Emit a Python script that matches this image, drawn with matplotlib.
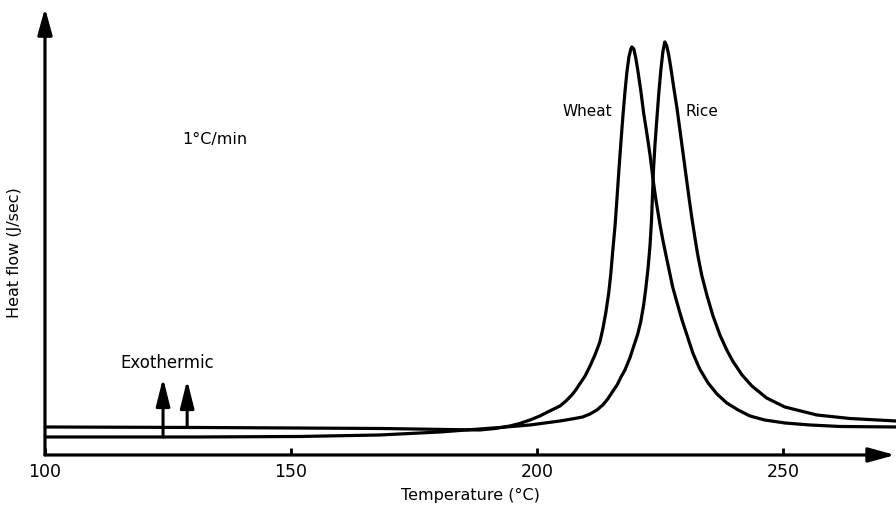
import matplotlib.pyplot as plt

# (temperature in deg C, heat flow in arbitrary units)
wheat_temp = [100.0, 131.5, 168.1, 188.4, 191.5, 194.5, 196.5, 198.6, 200.6, 202.6,
              204.7, 205.9, 207.1, 207.9, 208.7, 209.8, 210.8, 211.8, 212.8, 213.4,
              214.0, 214.6, 215.0, 215.4, 215.9, 216.3, 216.7, 217.1, 217.5, 217.9,
              218.3, 218.7, 219.1, 219.3, 219.7, 220.1, 220.5, 221.1, 221.7, 222.4,
              223.0, 223.6, 224.2, 225.0, 225.6, 226.4, 227.0, 227.6, 228.5, 229.5,
              230.5, 231.7, 233.1, 234.8, 236.6, 238.6, 240.9, 243.3, 246.3, 250.4,
              255.5, 261.6, 273.0]
wheat_flow = [28, 27.5, 26.5, 25, 26.5, 29, 31.5, 35, 39, 44,
              49, 54, 60, 65, 71, 79, 89, 100, 113, 126,
              142, 162, 180, 203, 230, 258, 287, 314, 340, 363,
              383, 398, 406, 408, 406, 397, 385, 365, 342, 320,
              300, 276, 255, 231, 215, 196, 182, 168, 152, 135,
              120, 102, 86, 72, 61, 52, 45, 39, 35, 32,
              30, 28.5, 28]

rice_temp = [100.0, 131.5, 151.8, 168.1, 180.3, 188.4, 192.5, 198.6, 204.7, 207.7,
             209.3, 210.8, 212.2, 213.4, 214.4, 215.2, 216.3, 217.1, 217.9, 218.9,
             219.7, 220.5, 221.1, 221.7, 222.1, 222.6, 223.0, 223.3, 223.5, 223.7,
             224.0, 224.4, 224.8, 225.2, 225.6, 226.0, 226.4, 226.8, 227.2, 227.8,
             228.5, 229.1, 229.7, 230.3, 230.9, 231.5, 232.1, 232.7, 233.5, 234.6,
             235.8, 237.2, 238.6, 239.8, 241.7, 243.7, 246.7, 250.4, 256.9, 263.6,
             273.0]
rice_flow = [18, 18, 18.5, 20, 23, 26, 27.5, 30, 34, 36.5,
             38, 41, 45, 50, 56, 62, 70, 78, 85, 97,
             109, 121, 133, 150, 165, 187, 210, 235, 260, 285,
             310, 337, 363, 385, 403, 413, 409, 400, 388, 368,
             346, 324, 302, 280, 258, 237, 218, 200, 180, 159,
             139, 120, 105, 94, 80, 69, 57, 48, 40, 36.5,
             34]

xticks = [100, 150, 200, 250]

plt.rcParams['font.family'] = ['DejaVu Sans']

fig = plt.figure(figsize=(8.96, 5.07), dpi=100)
ax = fig.add_axes([0.0502, 0.1026, 0.9498, 0.8817])

for temp, flow in [(wheat_temp, wheat_flow), (rice_temp, rice_flow)]:
    ax.plot(temp, flow, color='black', lw=2.3,
            solid_joinstyle='round', solid_capstyle='round')

ax.set_xlim(100, 273.0)
ax.set_ylim(0, 447)

for s in ax.spines.values():
    s.set_visible(False)

# axes drawn as arrows
head = dict(arrowstyle='-|>,head_length=0.8,head_width=0.22', color='black',
            lw=2.3, mutation_scale=20, shrinkA=0, shrinkB=0)
ax.annotate('', xy=(0, 1), xytext=(0, 0), xycoords='axes fraction',
            textcoords='axes fraction', arrowprops=head, annotation_clip=False)
ax.annotate('', xy=(0.999, 0), xytext=(0, 0), xycoords='axes fraction',
            textcoords='axes fraction', arrowprops=head, annotation_clip=False)

ax.set_xticks(xticks)
ax.set_xticklabels([str(t) for t in xticks], fontsize=12.5)
ax.tick_params(axis='x', direction='in', length=5, width=2, pad=6)
ax.set_yticks([])

# exothermic arrows
exo = dict(arrowstyle='-|>,head_length=1.2,head_width=0.3', color='black',
           lw=2.2, mutation_scale=14, shrinkA=0, shrinkB=0)
ax.annotate('', xy=(124.0, 77), xytext=(124.0, 18), arrowprops=exo)
ax.annotate('', xy=(128.9, 75), xytext=(128.9, 28), arrowprops=exo)

ax.text(124.8, 92, 'Exothermic', fontsize=12, ha='center', va='center')
ax.text(128.0, 315, '1°C/min', fontsize=11.5, ha='left', va='center')
ax.text(215.3, 343, 'Wheat', fontsize=11, ha='right', va='center')
ax.text(230.3, 343, 'Rice', fontsize=11, ha='left', va='center')

fig.text(470 / 896, 1 - 495 / 507, 'Temperature (°C)', fontsize=11.5,
         ha='center', va='center')
fig.text(15 / 896, 1 - 253 / 507, 'Heat flow (J/sec)', fontsize=11.5,
         ha='center', va='center', rotation=90)

fig.savefig('out.png', dpi=100)
